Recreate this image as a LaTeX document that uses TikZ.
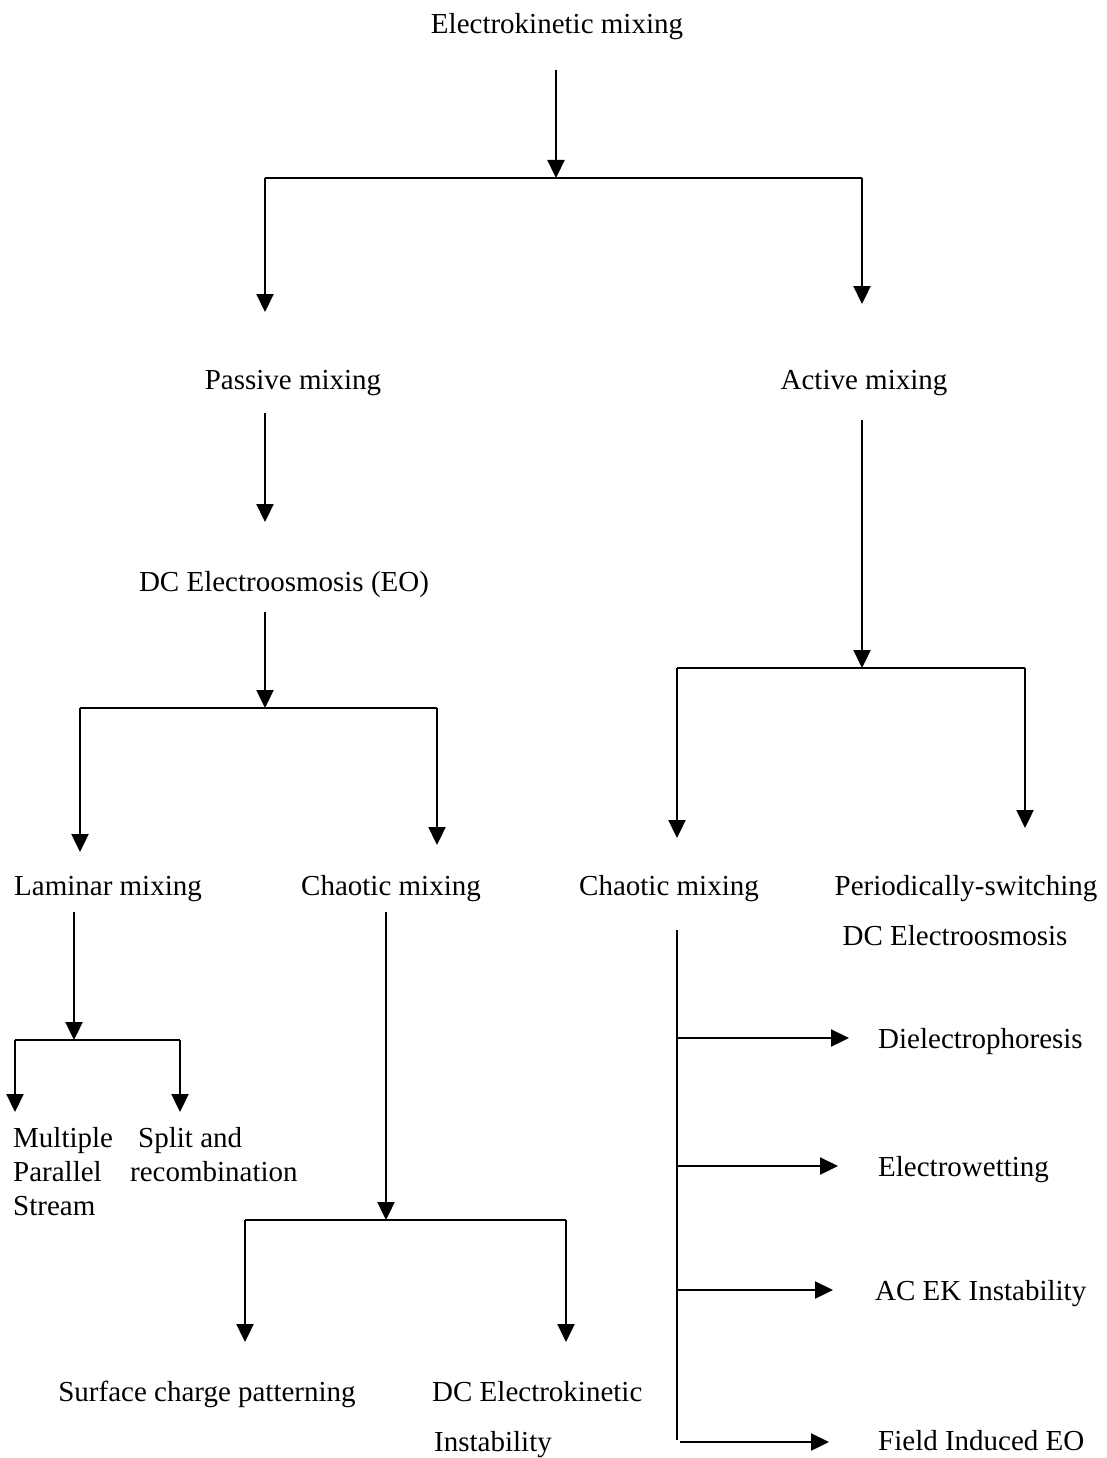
\documentclass[tikz,border=0pt]{standalone}
\usepackage{fontspec}
\setmainfont{Liberation Serif}
\usetikzlibrary{arrows.meta}
\begin{document}
\begin{tikzpicture}[x=1pt,y=-1pt,
  lbl/.style={inner sep=0pt, font=\fontsize{29}{34}\selectfont},
  arr/.style={line width=2.3pt, -{Triangle[length=18pt,width=17pt]}},
  ln/.style={line width=2.3pt},
]
\useasboundingbox (0,0) rectangle (1106,1458);
% texts
\node[lbl,anchor=base] (ek) at (557,34) {Electrokinetic mixing};
\node[lbl,anchor=base] (pas) at (293,389) {Passive mixing};
\node[lbl,anchor=base] (act) at (864,389) {Active mixing};
\node[lbl,anchor=base] (dc) at (284,591) {DC Electroosmosis (EO)};
\node[lbl,anchor=base] (lam) at (108,895) {Laminar mixing};
\node[lbl,anchor=base] (ch1) at (391,895) {Chaotic mixing};
\node[lbl,anchor=base] (ch2) at (669,895) {Chaotic mixing};
\node[lbl,anchor=base] (per) at (966,895) {Periodically-switching};
\node[lbl,anchor=base] (per2) at (955,945) {DC Electroosmosis};
\node[lbl,anchor=base west] (mps1) at (13,1147) {Multiple};
\node[lbl,anchor=base west] (mps2) at (13,1181) {Parallel};
\node[lbl,anchor=base west] (mps3) at (13,1215) {Stream};
\node[lbl,anchor=base west] (sr1) at (138,1147) {Split and};
\node[lbl,anchor=base west] (sr2) at (130,1181) {recombination};
\node[lbl,anchor=base] (scp) at (207,1401) {Surface charge patterning};
\node[lbl,anchor=base west] (dck1) at (432,1401) {DC Electrokinetic};
\node[lbl,anchor=base west] (dck2) at (434,1451) {Instability};
\node[lbl,anchor=base west] (dep) at (878,1048) {Dielectrophoresis};
\node[lbl,anchor=base west] (ew) at (878,1176) {Electrowetting};
\node[lbl,anchor=base west] (acek) at (875,1300) {AC EK Instability};
\node[lbl,anchor=base west] (fie) at (878,1450) {Field Induced EO};
% coordinates
\coordinate (ekS) at (556,70);
\coordinate (b1) at (556,178);
\coordinate (b1L) at (265,178);
\coordinate (b1R) at (862,178);
\coordinate (pasIn) at (265,312);
\coordinate (actIn) at (862,304);
\coordinate (pasS) at (265,413);
\coordinate (dcIn) at (265,522);
\coordinate (actS) at (862,420);
\coordinate (b3) at (862,668);
\coordinate (b3L) at (677,668);
\coordinate (b3R) at (1025,668);
\coordinate (ch2In) at (677,838);
\coordinate (perIn) at (1025,828);
\coordinate (dcS) at (265,612);
\coordinate (b2) at (265,708);
\coordinate (b2L) at (80,708);
\coordinate (b2R) at (437,708);
\coordinate (lamIn) at (80,852);
\coordinate (ch1In) at (437,845);
\coordinate (lamS) at (74,912);
\coordinate (b4) at (74,1040);
\coordinate (b4L) at (15,1040);
\coordinate (b4R) at (180,1040);
\coordinate (mpsIn) at (15,1112);
\coordinate (srIn) at (180,1112);
\coordinate (ch1S) at (386,912);
\coordinate (b5) at (386,1220);
\coordinate (b5L) at (245,1220);
\coordinate (b5R) at (566,1220);
\coordinate (scpIn) at (245,1342);
\coordinate (dckIn) at (566,1342);
\coordinate (ch2S) at (677,930);
\coordinate (ch2E) at (677,1440);
\coordinate (r1) at (677,1038);
\coordinate (r2) at (677,1166);
\coordinate (r3) at (677,1290);
\coordinate (r4) at (680,1442);
\coordinate (depIn) at (849,1038);
\coordinate (ewIn) at (838,1166);
\coordinate (acekIn) at (833,1290);
\coordinate (fieIn) at (829,1442);
% connectors
\draw[arr] (ekS) -- (b1);
\draw[ln] (b1L) -- (b1R);
\draw[arr] (b1L) -- (pasIn);
\draw[arr] (b1R) -- (actIn);
\draw[arr] (pasS) -- (dcIn);
\draw[arr] (actS) -- (b3);
\draw[ln] (b3L) -- (b3R);
\draw[arr] (b3L) -- (ch2In);
\draw[arr] (b3R) -- (perIn);
\draw[arr] (dcS) -- (b2);
\draw[ln] (b2L) -- (b2R);
\draw[arr] (b2L) -- (lamIn);
\draw[arr] (b2R) -- (ch1In);
\draw[arr] (lamS) -- (b4);
\draw[ln] (b4L) -- (b4R);
\draw[arr] (b4L) -- (mpsIn);
\draw[arr] (b4R) -- (srIn);
\draw[arr] (ch1S) -- (b5);
\draw[ln] (b5L) -- (b5R);
\draw[arr] (b5L) -- (scpIn);
\draw[arr] (b5R) -- (dckIn);
\draw[ln] (ch2S) -- (ch2E);
\draw[arr] (r1) -- (depIn);
\draw[arr] (r2) -- (ewIn);
\draw[arr] (r3) -- (acekIn);
\draw[arr] (r4) -- (fieIn);
\end{tikzpicture}
\end{document}
